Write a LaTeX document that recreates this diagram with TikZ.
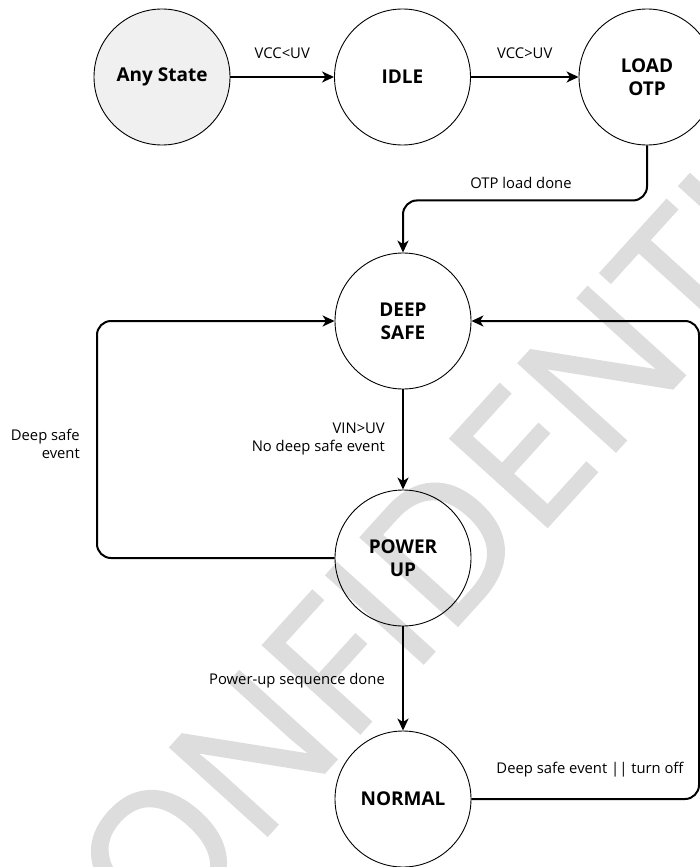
\documentclass[tikz,border=0pt]{standalone}
\usepackage{fontspec}
\setmainfont{Open Sans}
\newfontfamily\markfont[FakeBold=1.5]{Open Sans}
\usetikzlibrary{arrows.meta}
\definecolor{wmgray}{HTML}{DDDDDD}
\definecolor{anyfill}{HTML}{F0F0F0}

\begin{document}
\begin{tikzpicture}[x=1pt, y=-1pt,
        state/.style={circle, draw, line width=0.9pt, minimum size=136pt, inner sep=0pt,
            align=center, font=\fontsize{19}{23}\selectfont\bfseries},
        trans/.style={line width=2pt, -{Stealth[length=12pt,width=11pt,inset=3.5pt]}},
        lbl/.style={font=\fontsize{14.8}{18}\selectfont, inner sep=0pt}]
        \useasboundingbox (0,0) rectangle (700,867);
        \clip (0,0) rectangle (700,867);
        \node[rotate=47.8, text=wmgray, font=\markfont\fontsize{183}{183}\selectfont] (mark) at (464,521) {CONFIDENTIAL};
        % states
        \node[state, fill=anyfill] (any) at (162,77) {Any State};
        \node[state] (idle) at (402.5,77) {IDLE};
        \node[state] (load) at (647,77) {LOAD\\OTP};
        \node[state] (deep) at (403,321) {DEEP\\SAFE};
        \node[state] (power) at (403,558) {POWER\\UP};
        \node[state] (normal) at (403,799) {NORMAL};
        % transitions
        \draw[trans] (any) -- (idle) node[lbl, midway, yshift=24pt] (vccl) {VCC<UV};
        \draw[trans] (idle) -- (load) node[lbl, midway, yshift=24pt] (vccg) {VCC>UV};
        \draw[trans, rounded corners=14pt] (load.south) -- ++(0,55) -| (deep.north);
        \node[lbl] (otpdone) at (521,183) {OTP load done};
        \draw[trans] (deep) -- (power);
        \node[lbl, anchor=east, align=right] (vinuv) at (385,439) {VIN>UV\\No deep safe event};
        \draw[trans] (power) -- (normal);
        \node[lbl, anchor=east] (pudone) at (385,681) {Power-up sequence done};
        \coordinate (leftrail) at (97,440);
        \draw[trans, rounded corners=14pt] (power.west) -| (leftrail) |- (deep.west);
        \node[lbl, anchor=east, align=right] (dsleft) at (80,444) {Deep safe\\event};
        \coordinate (rightrail) at (699,560);
        \draw[trans, rounded corners=14pt] (normal.east) -| (rightrail) |- (deep.east);
        \node[lbl] (dsoff) at (590,770) {Deep safe event || turn off};
    \end{tikzpicture}
\end{document}
